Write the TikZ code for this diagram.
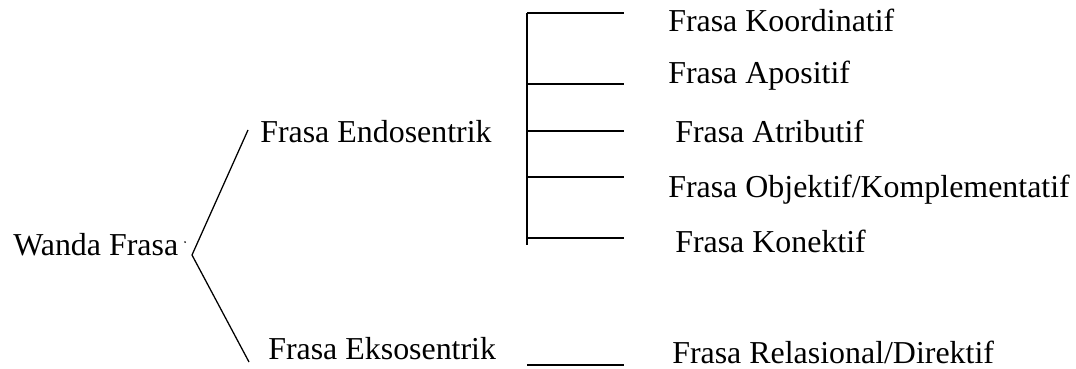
\documentclass[tikz,border=0pt]{standalone}
\usepackage{fontspec}
\setmainfont{Liberation Serif}
\usepackage{tikz}
\usetikzlibrary{positioning, calc}

\begin{document}
\begin{tikzpicture}[
    lbl/.style={anchor=base west, inner sep=0pt, font=\fontsize{22.7}{28}\selectfont},
    branch/.style={line width=0.9pt}
  ]
  \useasboundingbox (0, 0) rectangle (26.9, 9.2);

  % Root
  \node[lbl] (wanda) at (0.325, 2.825) {Wanda Frasa};
  \fill (4.625, 3.15) circle (0.025) coordinate (dot);
  \coordinate (fork) at (4.8, 2.825);

  % Two main branches
  \node[lbl] (endo) at (6.5, 5.65) {Frasa Endosentrik};
  \node[lbl] (ekso) at (6.7, 0.225) {Frasa Eksosentrik};
  \coordinate (endoin) at (6.2, 5.95);
  \coordinate (eksoin) at (6.225, 0.15);
  \draw[branch] (endoin) -- (fork) -- (eksoin);

  % Endosentrik subtypes
  \node[lbl] (koor) at (16.7, 8.4) {Frasa Koordinatif};
  \node[lbl] (apos) at (16.7, 7.125) {Frasa Apositif};
  \node[lbl] (atri) at (16.875, 5.65) {Frasa Atributif};
  \node[lbl] (obje) at (16.7, 4.275) {Frasa Objektif/Komplementatif};
  \node[lbl] (kone) at (16.875, 2.9) {Frasa Konektif};

  \coordinate (bartop) at (13.175, 8.875);
  \coordinate (barbot) at (13.175, 3.075);
  \draw[branch] (bartop) -- (barbot);
  \foreach \name/\y in {koor/8.875, apos/7.1, atri/5.925, obje/4.775, kone/3.25} {
    \coordinate (\name in) at (15.6, \y);
    \draw[branch] (13.175, \y) -- (\name in);
  }

  % Eksosentrik subtype
  \node[lbl] (rela) at (16.8, 0.125) {Frasa Relasional/Direktif};
  \coordinate (relaL) at (13.175, 0.075);
  \coordinate (relaR) at (15.6, 0.075);
  \draw[branch] (relaL) -- (relaR);
\end{tikzpicture}
\end{document}
